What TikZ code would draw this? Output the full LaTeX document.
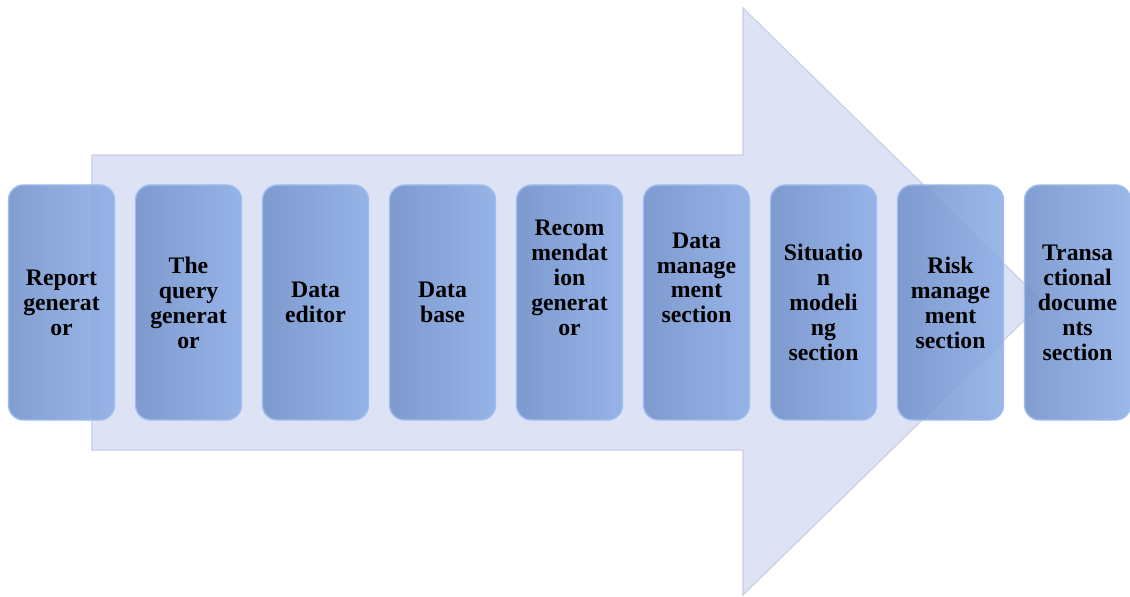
\documentclass[tikz,border=0pt]{standalone}
\usepackage{fontspec}
\setmainfont{Liberation Serif}
\usetikzlibrary{positioning}
\definecolor{flechaFondo}{HTML}{DEE2F5}
\definecolor{flechaBorde}{HTML}{C9CDE3}
\definecolor{moduloIzq}{HTML}{7090CA}
\definecolor{moduloAzul}{HTML}{7C9DD7}
\definecolor{moduloDer}{HTML}{8CADE6}
\definecolor{moduloBorde}{HTML}{9DBCEF}

\begin{document}
\begin{tikzpicture}[x=0.2mm, y=-0.2mm,
    flecha/.style={fill=flechaFondo, draw=flechaBorde, line width=0.6pt},
    modulo/.style={rectangle, rounded corners=3mm, draw=moduloBorde, line width=0.8pt,
                   left color=moduloIzq, middle color=moduloAzul, right color=moduloDer,
                   fill opacity=0.87, text opacity=1, outer sep=0pt,
                   minimum width=2.12cm, minimum height=4.7cm, inner sep=0pt,
                   align=center, font=\bfseries\fontsize{13.5}{14.2}\selectfont}
  ]
  \useasboundingbox (0,0) rectangle (1130,597);

  % flecha de fondo
  \draw[flecha] (92,155) -- (743,155) -- (743,8) -- (1043,302)
    -- (743,595) -- (743,450) -- (92,450) -- cycle;

  \node[modulo] (m1) at (61.5,302.5) {Report\\ generat\\ or};
  \node[modulo, right=0.42cm of m1] (m2) {The\\ query\\ generat\\ or};
  \node[modulo, right=0.42cm of m2] (m3) {Data\\ editor};
  \node[modulo, right=0.42cm of m3] (m4) {Data\\ base};
  \node[modulo, right=0.42cm of m4] (m5) {Recom\\ mendat\\ ion\\ generat\\ or\\[14pt]};
  \node[modulo, right=0.42cm of m5] (m6) {Data\\ manage\\ ment\\ section\\[14pt]};
  \node[modulo, right=0.42cm of m6] (m7) {Situatio\\ n\\ modeli\\ ng\\ section};
  \node[modulo, right=0.42cm of m7] (m8) {Risk\\ manage\\ ment\\ section};
  \node[modulo, right=0.42cm of m8] (m9) {Transa\\ ctional\\ docume\\ nts\\ section};
\end{tikzpicture}
\end{document}
